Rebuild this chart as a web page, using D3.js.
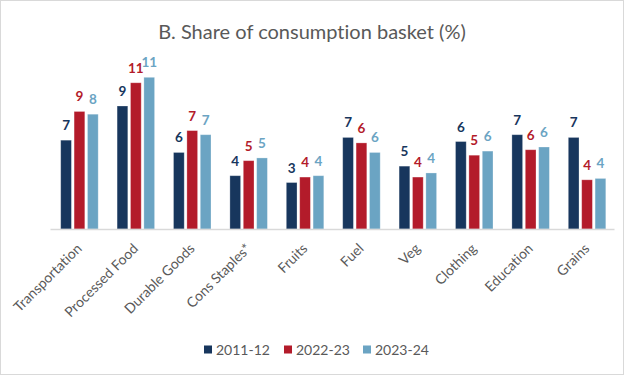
<!DOCTYPE html>
<html>
<head>
<meta charset="utf-8">
<script src="https://cdnjs.cloudflare.com/ajax/libs/d3/7.8.5/d3.min.js"></script>
<style>
  body { margin: 0; background: #fff; }
  svg { display: block; }
  text { font-variant-ligatures: none; }
</style>
</head>
<body>
<div class="chart_area"></div>
<script>
var categories = ["Transportation", "Processed Food", "Durable Goods", "Cons Staples*", "Fruits",
                  "Fuel", "Veg", "Clothing", "Education", "Grains"];
var seriesNames = ["2011-12", "2022-23", "2023-24"];
var values2011 = [6.5, 9.0, 5.6, 3.9, 3.4, 6.7, 4.6, 6.4, 6.9, 6.7];
var values2022 = [8.6, 10.7, 7.2, 5.0, 3.8, 6.3, 3.8, 5.4, 5.8, 3.6];
var values2023 = [8.4, 11.1, 6.9, 5.2, 3.9, 5.6, 4.1, 5.7, 6.0, 3.7];

var barColors = ["#17365D", "#B31B2A", "#6BA4C3"];

var W = 624, H = 375;
var margin = { top: 65, right: 10, bottom: 146, left: 50 };
var width = W - margin.left - margin.right,
    height = H - margin.top - margin.bottom;

var svg = d3.select(".chart_area")
    .append("svg")
    .attr("width", W)
    .attr("height", H);

// outer border
svg.append("rect")
    .attr("x", 0.5).attr("y", 0.5)
    .attr("width", W - 1).attr("height", H - 1)
    .attr("fill", "#fff")
    .attr("stroke", "#D9D9D9");

svg.append("text")
    .attr("x", 312)
    .attr("y", 39)
    .attr("text-anchor", "middle")
    .style("font-family", "Lato, 'Open Sans', sans-serif")
    .style("font-size", "20px")
    .style("fill", "#595959")
    .text("B. Share of consumption basket (%)");

var g = svg.append("g")
    .attr("transform", "translate(" + margin.left + "," + margin.top + ")");

var x = d3.scaleBand().domain(categories).range([0, width]);
var x1 = d3.scaleBand().domain(seriesNames).range([0, 37.5]).paddingInner(0.2);
var y = d3.scaleLinear().domain([0, 12]).range([height, 0]);

var allSeries = [values2011, values2022, values2023];

allSeries.forEach(function (vals, s) {
    var data = categories.map(function (c, i) { return { cat: c, value: vals[i] }; });
    var off = (x.bandwidth() - 37.5) / 2 + 1.25;

    g.append("g").selectAll("rect")
        .data(data)
        .enter()
        .append("rect")
        .attr("x", function (d) { return x(d.cat) + off + x1(seriesNames[s]); })
        .attr("y", function (d) { return y(d.value); })
        .attr("width", x1.bandwidth())
        .attr("height", function (d) { return height - y(d.value); })
        .attr("fill", barColors[s])
        .attr("stroke", "rgba(255,255,255,0.35)")
        .attr("stroke-width", 0.8);

    g.append("g").selectAll("text")
        .data(data)
        .enter()
        .append("text")
        .attr("x", function (d) { return x(d.cat) + off + x1(seriesNames[s]) + x1.bandwidth() / 2; })
        .attr("y", function (d) { return y(d.value) - 10; })
        .attr("text-anchor", "middle")
        .style("font-family", "Lato, 'Open Sans', sans-serif")
        .style("font-size", "13.5px")
        .style("font-weight", "bold")
        .style("fill", barColors[s])
        .text(function (d) { return Math.round(d.value); });
});

// x axis
var xAxis = g.append("g")
    .attr("transform", "translate(0," + height + ")")
    .call(d3.axisBottom(x).tickSize(0).tickPadding(0));

xAxis.select(".domain")
    .style("stroke", "#D9D9D9")
    .style("stroke-width", 1.5);

xAxis.selectAll("text")
    .attr("text-anchor", "end")
    .attr("transform", "translate(1,17) rotate(-45)")
    .attr("dy", "0.35em")
    .style("font-family", "Lato, 'Open Sans', sans-serif")
    .style("font-size", "14px")
    .style("fill", "#595959");

// legend
var legendX = [204, 284, 363];
var legend = svg.append("g");
seriesNames.forEach(function (name, s) {
    legend.append("rect")
        .attr("x", legendX[s]).attr("y", 345.5)
        .attr("width", 8).attr("height", 8)
        .attr("fill", barColors[s]);
    legend.append("text")
        .attr("x", legendX[s] + 12).attr("y", 354.5)
        .style("font-family", "Lato, 'Open Sans', sans-serif")
        .style("font-size", "14px")
        .style("fill", "#595959")
        .text(name);
});
</script>
</body>
</html>
